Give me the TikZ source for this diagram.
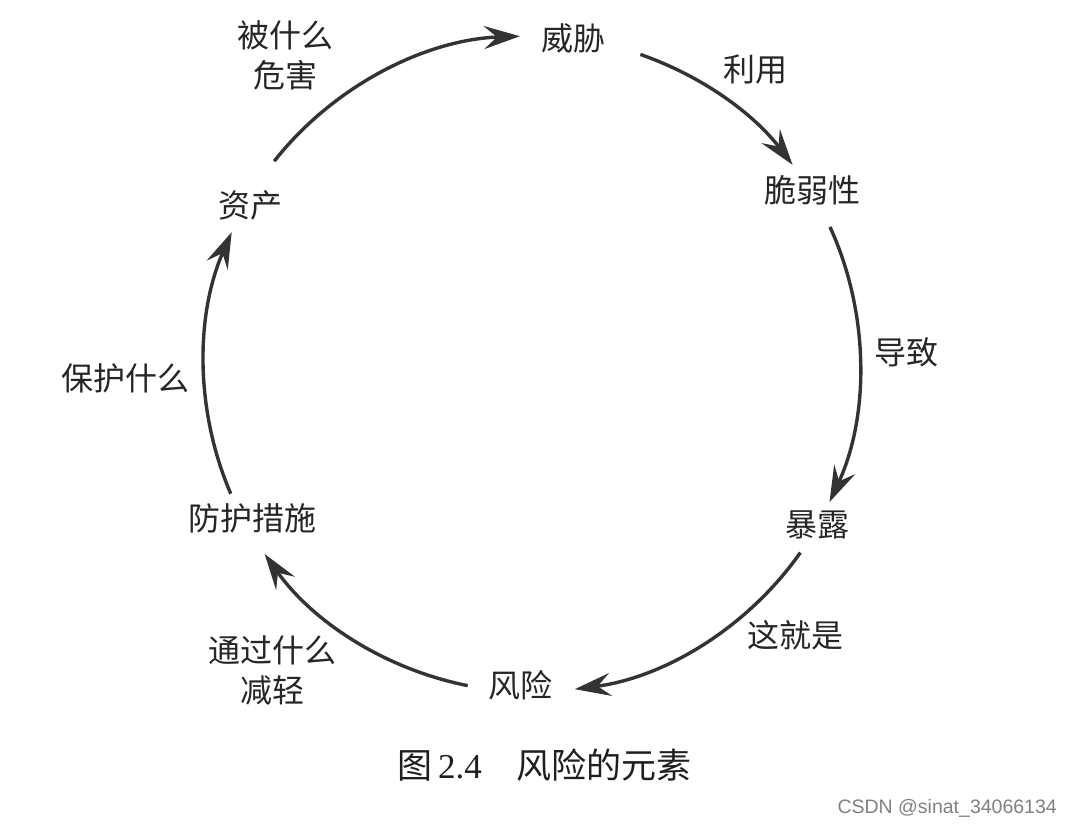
\documentclass[tikz,border=0pt]{standalone}
\usepackage{fontspec}
\setmainfont{Liberation Serif}
\newfontfamily\cjk{Noto Sans CJK SC}
\newfontfamily\wmfont{Liberation Sans}
\usetikzlibrary{arrows.meta,calc}

\begin{document}
\begin{tikzpicture}[x=1pt,y=1pt,
  elem/.style={font=\cjk\fontsize{32}{40}\selectfont,text=black!85,inner sep=0pt},
  lbl/.style={elem,align=center},
  link/.style={line width=3.4pt,draw=black!80,looseness=0.885,
    -{Stealth[length=36pt,width=23pt,inset=13pt]}}]
\useasboundingbox (0,0) rectangle (1072,-830);
\coordinate (ctr) at (532,-364);
% elements of risk
\node[elem] (threat) at (573,-38) {威胁};
\node[elem] (vuln) at (812,-190) {脆弱性};
\node[elem] (expo) at (817,-525) {暴露};
\node[elem] (risk) at (520,-685) {风险};
\node[elem] (guard) at (252,-518) {防护措施};
\node[elem] (asset) at (250,-205) {资产};
% labels on the arcs
\node[lbl] (exploit) at (755,-70) {利用};
\node[lbl] (lead) at (906,-352) {导致};
\node[lbl] (thisis) at (795,-635) {这就是};
\node[lbl] (mitig) at (272,-670) {通过什么\\减轻};
\node[lbl] (protect) at (125,-378) {保护什么};
\node[lbl] (harm) at (285,-55) {被什么\\危害};
% arc ends on the circle
\foreach \n/\a in {asset-o/141.8,threat-i/92.1,threat-o/70.7,vuln-i/37.4,
  vuln-o/24.7,expo-i/-24.9,expo-o/-35.1,risk-i/-82.5,risk-o/-101.3,
  guard-i/-144.6,guard-o/-156.7,asset-i/156.3}
  \coordinate (\n) at ($(ctr)+(\a:328)$);
\draw[link] (asset-o) to[bend left=24.9] (threat-i);
\draw[link] (threat-o) to[bend left=16.7] (vuln-i);
\draw[link] (vuln-o) to[bend left=24.8] (expo-i);
\draw[link] (expo-o) to[bend left=23.7] (risk-i);
\draw[link] (risk-o) to[bend left=21.7] (guard-i);
\draw[link] (guard-o) to[bend left=23.5] (asset-i);
% caption and mark
\node[anchor=west,inner sep=0pt,text=black!88,font=\fontsize{35}{40}\selectfont]
  (caption) at (397,-765) {{\cjk 图}\hspace{6pt}2.4\quad{\cjk 风险的元素}};
\node[anchor=east,inner sep=0pt,text=black!50,font=\wmfont\fontsize{19.5}{22}\selectfont]
  (mark) at (1057,-808) {CSDN @sinat\_34066134};
\end{tikzpicture}
\end{document}
